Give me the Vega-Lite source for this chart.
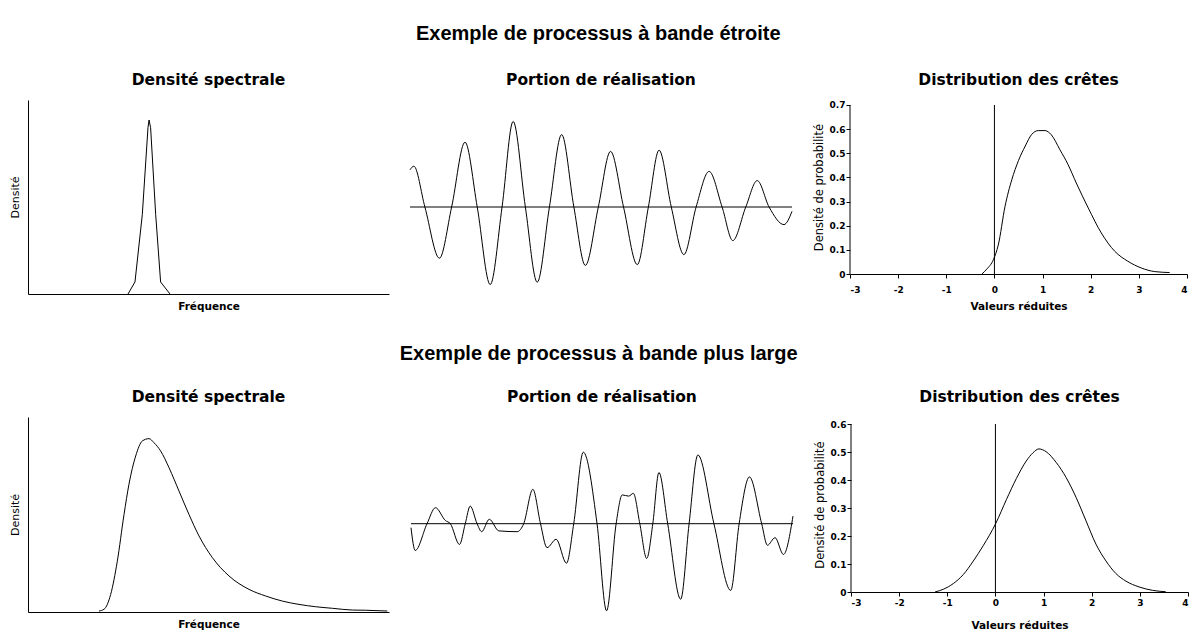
{
  "$schema": "https://vega.github.io/schema/vega-lite/v6.json",
  "background": "white",
  "padding": {"left": 9, "top": 23, "right": 5, "bottom": 5},
  "config": {
    "view": {"stroke": null},
    "axis": {"domainColor": "black", "domainWidth": 1, "tickColor": "black", "tickSize": 4, "grid": false, "labelFont": "DejaVu Sans", "labelFontWeight": "bold", "labelFontSize": 9, "labelColor": "black", "labelPadding": 1, "labelOverlap": false, "titleFont": "DejaVu Sans", "titleFontSize": 10.5, "titleColor": "black"},
    "title": {"font": "DejaVu Sans", "fontSize": 15.5, "fontWeight": "bold", "color": "black"},
    "line": {"color": "black", "strokeWidth": 1},
    "rule": {"color": "black", "strokeWidth": 1}
  },
  "datasets": {
    "spec1": [
      {"f": 0.831, "d": 0}, {"f": 0.889, "d": 0.062}, {"f": 0.95, "d": 0.41}, {"f": 0.997, "d": 0.857}, {"f": 1.006, "d": 0.897}, {"f": 1.019, "d": 0.857}, {"f": 1.061, "d": 0.41}, {"f": 1.102, "d": 0.062}, {"f": 1.18, "d": 0}
    ],
    "spec2": [
      {"f": 0.59, "d": 0.005}, {"f": 0.632, "d": 0.014}, {"f": 0.687, "d": 0.09}, {"f": 0.742, "d": 0.26}, {"f": 0.798, "d": 0.5}, {"f": 0.839, "d": 0.655}, {"f": 0.895, "d": 0.8}, {"f": 0.95, "d": 0.877}, {"f": 1.006, "d": 0.889}, {"f": 1.047, "d": 0.868}, {"f": 1.102, "d": 0.826}, {"f": 1.172, "d": 0.74}, {"f": 1.255, "d": 0.62}, {"f": 1.338, "d": 0.5}, {"f": 1.421, "d": 0.39}, {"f": 1.532, "d": 0.279}, {"f": 1.67, "d": 0.185}, {"f": 1.837, "d": 0.116}, {"f": 1.975, "d": 0.082}, {"f": 2.114, "d": 0.056}, {"f": 2.252, "d": 0.039}, {"f": 2.391, "d": 0.027}, {"f": 2.529, "d": 0.019}, {"f": 2.695, "d": 0.01}, {"f": 2.806, "d": 0.009}, {"f": 2.986, "d": 0.005}
    ],
    "wave1": [
      {"t": 0, "a": 0.93}, {"t": 0.1, "a": 1.02}, {"t": 0.39, "a": 0}, {"t": 0.77, "a": -1.28}, {"t": 1.09, "a": 0}, {"t": 1.44, "a": 1.62}, {"t": 1.76, "a": 0}, {"t": 2.1, "a": -1.94}, {"t": 2.41, "a": 0}, {"t": 2.7, "a": 2.14}, {"t": 3.02, "a": 0}, {"t": 3.33, "a": -1.88}, {"t": 3.65, "a": 0}, {"t": 3.97, "a": 1.81}, {"t": 4.29, "a": 0}, {"t": 4.59, "a": -1.46}, {"t": 4.93, "a": 0}, {"t": 5.25, "a": 1.39}, {"t": 5.59, "a": 0}, {"t": 5.95, "a": -1.44}, {"t": 6.24, "a": 0}, {"t": 6.52, "a": 1.42}, {"t": 6.84, "a": 0}, {"t": 7.17, "a": -1.19}, {"t": 7.49, "a": 0}, {"t": 7.83, "a": 0.89}, {"t": 8.17, "a": 0}, {"t": 8.45, "a": -0.84}, {"t": 8.79, "a": 0}, {"t": 9.09, "a": 0.66}, {"t": 9.4, "a": 0}, {"t": 9.79, "a": -0.44}, {"t": 10, "a": -0.11}
    ],
    "wave2": [
      {"t": 0, "a": -0.1}, {"t": 0.11, "a": -0.67}, {"t": 0.42, "a": 0}, {"t": 0.64, "a": 0.4}, {"t": 0.9, "a": 0.08}, {"t": 1.03, "a": 0}, {"t": 1.27, "a": -0.52}, {"t": 1.42, "a": 0}, {"t": 1.55, "a": 0.44}, {"t": 1.73, "a": 0}, {"t": 1.85, "a": -0.2}, {"t": 2.05, "a": 0.11}, {"t": 2.3, "a": -0.18}, {"t": 2.78, "a": -0.2}, {"t": 2.95, "a": 0}, {"t": 3.19, "a": 0.86}, {"t": 3.39, "a": 0}, {"t": 3.56, "a": -0.6}, {"t": 3.8, "a": -0.39}, {"t": 4.07, "a": -0.99}, {"t": 4.26, "a": 0}, {"t": 4.51, "a": 1.79}, {"t": 4.87, "a": 0}, {"t": 5.12, "a": -2.18}, {"t": 5.37, "a": 0}, {"t": 5.53, "a": 0.72}, {"t": 5.7, "a": 0.69}, {"t": 5.82, "a": 0.76}, {"t": 5.99, "a": 0}, {"t": 6.17, "a": -0.87}, {"t": 6.33, "a": 0}, {"t": 6.49, "a": 1.28}, {"t": 6.72, "a": 0}, {"t": 7.06, "a": -1.89}, {"t": 7.28, "a": 0}, {"t": 7.51, "a": 1.72}, {"t": 7.93, "a": 0}, {"t": 8.37, "a": -1.67}, {"t": 8.59, "a": 0}, {"t": 8.86, "a": 1.17}, {"t": 9.18, "a": 0}, {"t": 9.33, "a": -0.54}, {"t": 9.53, "a": -0.35}, {"t": 9.75, "a": -0.77}, {"t": 10, "a": 0.19}
    ],
    "peaks1": [
      {"v": -0.26, "p": 0}, {"v": -0.16, "p": 0.02}, {"v": -0.02, "p": 0.06}, {"v": 0.08, "p": 0.12}, {"v": 0.22, "p": 0.28}, {"v": 0.36, "p": 0.39}, {"v": 0.5, "p": 0.47}, {"v": 0.64, "p": 0.53}, {"v": 0.77, "p": 0.577}, {"v": 0.91, "p": 0.594}, {"v": 1.05, "p": 0.594}, {"v": 1.18, "p": 0.577}, {"v": 1.36, "p": 0.515}, {"v": 1.53, "p": 0.453}, {"v": 1.7, "p": 0.377}, {"v": 1.95, "p": 0.273}, {"v": 2.22, "p": 0.17}, {"v": 2.5, "p": 0.094}, {"v": 2.77, "p": 0.053}, {"v": 3.05, "p": 0.025}, {"v": 3.33, "p": 0.01}, {"v": 3.64, "p": 0.006}
    ],
    "peaks2": [
      {"v": -1.255, "p": 0}, {"v": -1.08, "p": 0.01}, {"v": -0.876, "p": 0.03}, {"v": -0.669, "p": 0.062}, {"v": -0.462, "p": 0.11}, {"v": -0.255, "p": 0.165}, {"v": 0.007, "p": 0.245}, {"v": 0.228, "p": 0.33}, {"v": 0.434, "p": 0.405}, {"v": 0.641, "p": 0.468}, {"v": 0.779, "p": 0.497}, {"v": 0.903, "p": 0.511}, {"v": 1.054, "p": 0.501}, {"v": 1.261, "p": 0.463}, {"v": 1.468, "p": 0.409}, {"v": 1.675, "p": 0.338}, {"v": 1.882, "p": 0.254}, {"v": 2.088, "p": 0.171}, {"v": 2.295, "p": 0.111}, {"v": 2.502, "p": 0.066}, {"v": 2.709, "p": 0.039}, {"v": 2.985, "p": 0.018}, {"v": 3.261, "p": 0.006}, {"v": 3.537, "p": 0.001}
    ]
  },
  "spacing": 31,
  "vconcat": [
    {
      "title": {"text": "Exemple de processus à bande étroite", "font": "Liberation Sans", "fontSize": 20, "fontWeight": "bold", "anchor": "middle", "offset": 29},
      "spacing": 19,
      "hconcat": [
        {
          "width": 361, "height": 194,
          "title": {"text": "Densité spectrale", "frame": "group", "offset": 12},
          "data": {"name": "spec1"},
          "mark": {"type": "line", "interpolate": "linear"},
          "encoding": {
            "x": {"field": "f", "type": "quantitative", "scale": {"domain": [0, 3], "nice": false}, "axis": {"title": "Fréquence", "labels": false, "ticks": false, "titleFontWeight": "bold", "titlePadding": 7}},
            "y": {"field": "d", "type": "quantitative", "scale": {"domain": [0, 1], "nice": false}, "axis": {"title": "Densité", "labels": false, "ticks": false, "titleFontWeight": "normal", "titleFontSize": 11, "titlePadding": 8}}
          }
        },
        {
          "width": 382, "height": 194,
          "title": {"text": "Portion de réalisation", "frame": "group", "offset": 12},
          "layer": [
            {"data": {"name": "wave1"}, "mark": {"type": "line", "interpolate": "monotone"},
             "encoding": {
               "x": {"field": "t", "type": "quantitative", "scale": {"domain": [0, 10], "nice": false}, "axis": null},
               "y": {"field": "a", "type": "quantitative", "scale": {"domain": [-2.175, 2.675], "nice": false}, "axis": null}
             }},
            {"data": {"values": [{}]}, "mark": {"type": "rule"}, "encoding": {"y": {"datum": 0, "type": "quantitative", "scale": {"domain": [-2.175, 2.675], "nice": false}, "axis": null}}}
          ]
        },
        {
          "width": 337, "height": 174,
          "title": {"text": "Distribution des crêtes", "frame": "group", "offset": 12},
          "layer": [
            {"data": {"name": "peaks1"}, "mark": {"type": "line", "interpolate": "monotone"},
             "encoding": {
               "x": {"field": "v", "type": "quantitative", "scale": {"domain": [-3, 4], "nice": false}, "axis": {"title": "Valeurs réduites", "values": [-3, -2, -1, 0, 1, 2, 3, 4], "labelExpr": "'' + datum.value", "titleFontWeight": "bold", "titlePadding": 7, "labelPadding": 7}},
               "y": {"field": "p", "type": "quantitative", "scale": {"domain": [0, 0.7207], "nice": false}, "axis": {"title": "Densité de probabilité", "domain": false, "values": [0, 0.1, 0.2, 0.3, 0.4, 0.5, 0.6, 0.7], "labelExpr": "'' + datum.value", "titleFontWeight": "normal", "titleFontSize": 11.5, "titlePadding": 5}}
             }},
            {"data": {"values": [{"v": 0}, {"v": -3}]}, "mark": {"type": "rule"},
             "encoding": {
               "x": {"field": "v", "type": "quantitative", "scale": {"domain": [-3, 4], "nice": false}, "axis": {"title": "Valeurs réduites", "values": [-3, -2, -1, 0, 1, 2, 3, 4], "labelExpr": "'' + datum.value", "titleFontWeight": "bold", "titlePadding": 7, "labelPadding": 7}},
               "y": {"datum": 0, "type": "quantitative", "scale": {"domain": [0, 0.7207], "nice": false}, "axis": {"title": "Densité de probabilité", "domain": false, "values": [0, 0.1, 0.2, 0.3, 0.4, 0.5, 0.6, 0.7], "labelExpr": "'' + datum.value", "titleFontWeight": "normal", "titleFontSize": 11.5, "titlePadding": 5}},
               "y2": {"datum": 0.7}
             }}
          ]
        }
      ]
    },
    {
      "title": {"text": "Exemple de processus à bande plus large", "font": "Liberation Sans", "fontSize": 20, "fontWeight": "bold", "anchor": "middle", "offset": 26},
      "spacing": 19,
      "hconcat": [
        {
          "width": 361, "height": 195,
          "title": {"text": "Densité spectrale", "frame": "group", "offset": 12},
          "data": {"name": "spec2"},
          "mark": {"type": "line", "interpolate": "monotone"},
          "encoding": {
            "x": {"field": "f", "type": "quantitative", "scale": {"domain": [0, 3], "nice": false}, "axis": {"title": "Fréquence", "labels": false, "ticks": false, "titleFontWeight": "bold", "titlePadding": 7}},
            "y": {"field": "d", "type": "quantitative", "scale": {"domain": [0, 1], "nice": false}, "axis": {"title": "Densité", "labels": false, "ticks": false, "titleFontWeight": "normal", "titleFontSize": 11, "titlePadding": 8}}
          }
        },
        {
          "width": 382, "height": 195,
          "title": {"text": "Portion de réalisation", "frame": "group", "offset": 12},
          "layer": [
            {"data": {"name": "wave2"}, "mark": {"type": "line", "interpolate": "monotone"},
             "encoding": {
               "x": {"field": "t", "type": "quantitative", "scale": {"domain": [0, 10], "nice": false}, "axis": null},
               "y": {"field": "a", "type": "quantitative", "scale": {"domain": [-2.21, 2.67], "nice": false}, "axis": null}
             }},
            {"data": {"values": [{}]}, "mark": {"type": "rule"}, "encoding": {"y": {"datum": 0, "type": "quantitative", "scale": {"domain": [-2.21, 2.67], "nice": false}, "axis": null}}}
          ]
        },
        {
          "width": 337, "height": 175,
          "title": {"text": "Distribution des crêtes", "frame": "group", "offset": 12},
          "layer": [
            {"data": {"name": "peaks2"}, "mark": {"type": "line", "interpolate": "monotone"},
             "encoding": {
               "x": {"field": "v", "type": "quantitative", "scale": {"domain": [-3, 4], "nice": false}, "axis": {"title": "Valeurs réduites", "values": [-3, -2, -1, 0, 1, 2, 3, 4], "labelExpr": "'' + datum.value", "titleFontWeight": "bold", "titlePadding": 13, "labelPadding": 2}},
               "y": {"field": "p", "type": "quantitative", "scale": {"domain": [0, 0.625], "nice": false}, "axis": {"title": "Densité de probabilité", "domain": false, "values": [0, 0.1, 0.2, 0.3, 0.4, 0.5, 0.6], "labelExpr": "'' + datum.value", "titleFontWeight": "normal", "titleFontSize": 11.5, "titlePadding": 5}}
             }},
            {"data": {"values": [{"v": 0}, {"v": -3}]}, "mark": {"type": "rule"},
             "encoding": {
               "x": {"field": "v", "type": "quantitative", "scale": {"domain": [-3, 4], "nice": false}, "axis": {"title": "Valeurs réduites", "values": [-3, -2, -1, 0, 1, 2, 3, 4], "labelExpr": "'' + datum.value", "titleFontWeight": "bold", "titlePadding": 13, "labelPadding": 2}},
               "y": {"datum": 0, "type": "quantitative", "scale": {"domain": [0, 0.625], "nice": false}, "axis": {"title": "Densité de probabilité", "domain": false, "values": [0, 0.1, 0.2, 0.3, 0.4, 0.5, 0.6], "labelExpr": "'' + datum.value", "titleFontWeight": "normal", "titleFontSize": 11.5, "titlePadding": 5}},
               "y2": {"datum": 0.6}
             }}
          ]
        }
      ]
    }
  ]
}
